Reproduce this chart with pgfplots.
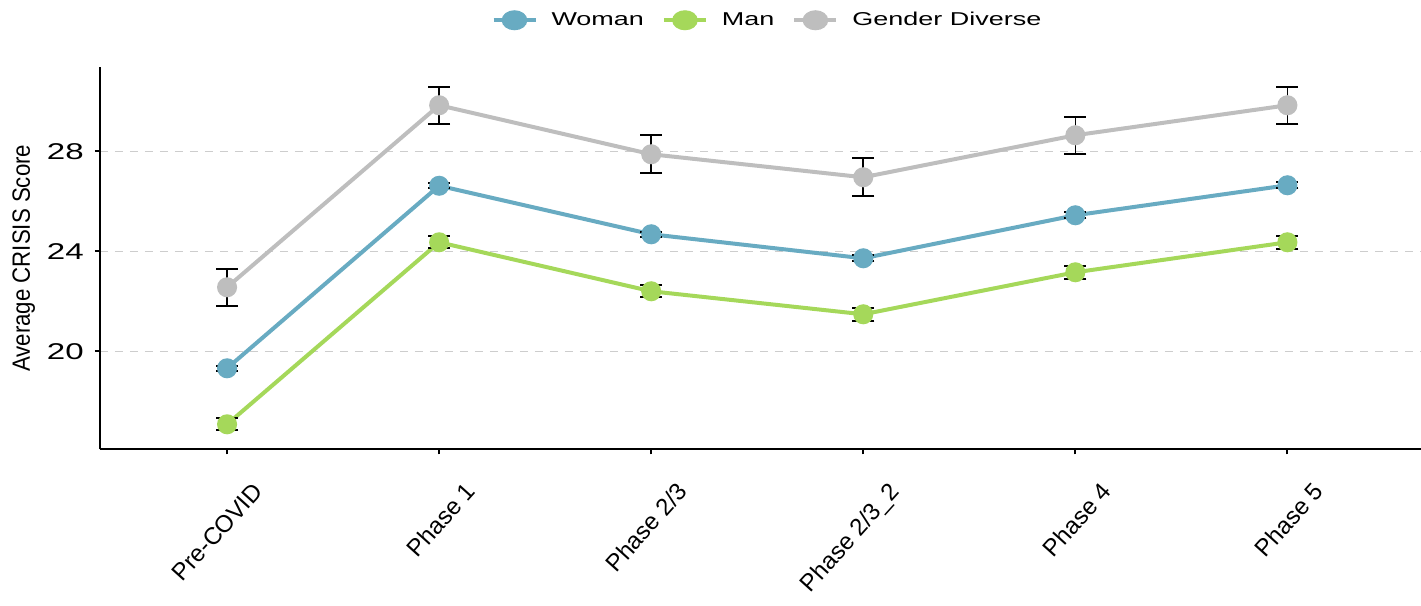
\documentclass[border=0pt]{standalone}
\usepackage{pgfplots}
\pgfplotsset{compat=1.18}
\usepackage{fontspec}
\setmainfont{Liberation Sans}
\newfontfamily\wfont[FakeStretch=1.45]{Liberation Sans}
\newfontfamily\nfont[FakeStretch=0.89]{Liberation Sans}
\definecolor{cwoman}{RGB}{104,171,194}
\definecolor{cman}{RGB}{165,216,90}
\definecolor{cgd}{RGB}{190,190,190}
\definecolor{cgrid}{RGB}{205,205,205}
\begin{document}
\begin{tikzpicture}[trim axis right]
\begin{axis}[
  scale only axis,
  width=660.5pt, height=191pt,
  xmin=-0.6, xmax=5.63,
  ymin=16.08, ymax=31.36,
  axis x line*=bottom, axis y line*=left,
  axis line style={line width=1pt, black},
  xtick={0,1,2,3,4,5},
  xticklabels={Pre-COVID,Phase 1,Phase 2/3,Phase 2/3\_2,Phase 4,Phase 5},
  xticklabel style={xshift=12pt, yshift=-8.5pt, rotate=48, anchor=north east, font=\fontsize{12}{14}\selectfont},
  ytick={20,24,28},
  yticklabel style={font=\wfont\fontsize{11.4}{13}\selectfont, xshift=-2pt},
  /pgf/number format/assume math mode=true,
  tick align=outside,
  major tick length=2.5pt,
  tick style={line width=1pt, black},
  ymajorgrids,
  grid style={line width=0.75pt, cgrid, dash pattern=on 4pt off 3.5pt},
  ylabel={Average CRISIS Score},
  ylabel style={at={([xshift=-38pt]axis description cs:0,0.5)}, anchor=center, inner xsep=0pt, inner ysep=6.25pt, font=\nfont\fontsize{12.5}{14}\selectfont},
  legend columns=3,
  legend style={draw=none, inner ysep=4pt, at={([xshift=4pt,yshift=23.5pt]axis description cs:0.5,1)}, anchor=center, font=\wfont\fontsize{9.3}{11}\selectfont,
    /tikz/every odd column/.append style={column sep=5pt},
    /tikz/every even column/.append style={column sep=7pt}},
  legend image code/.code={\draw[#1, line width=2pt] (0pt,0pt) -- (21pt,0pt); \draw[#1, mark options={xscale=1.35, draw=none}] plot coordinates {(10.5pt,0pt)};},
  every axis plot/.append style={line width=2pt, mark=*, mark size=4pt, mark options={xscale=1.35, draw=none}},
  error bars/y dir=both, error bars/y explicit,
  error bars/error bar style={black, line width=0.8pt},
  error bars/error mark options={rotate=90, black, mark size=5.5pt, line width=0.8pt},
]
\addplot[cwoman, mark options={fill=cwoman}] coordinates {
  (0,19.32) +- (0,0.1)
  (1,26.62) +- (0,0.1)
  (2,24.68) +- (0,0.1)
  (3,23.72) +- (0,0.12)
  (4,25.44) +- (0,0.12)
  (5,26.64) +- (0,0.12)
};
\addlegendentry{Woman}
\addplot[cman, mark options={fill=cman}] coordinates {
  (0,17.08) +- (0,0.24)
  (1,24.36) +- (0,0.24)
  (2,22.40) +- (0,0.24)
  (3,21.48) +- (0,0.26)
  (4,23.16) +- (0,0.26)
  (5,24.36) +- (0,0.26)
};
\addlegendentry{Man}
\addplot[cgd, mark options={fill=cgd}] coordinates {
  (0,22.56) +- (0,0.74)
  (1,29.84) +- (0,0.74)
  (2,27.88) +- (0,0.76)
  (3,26.96) +- (0,0.76)
  (4,28.64) +- (0,0.74)
  (5,29.84) +- (0,0.74)
};
\addlegendentry{Gender Diverse}
\end{axis}
\end{tikzpicture}
\end{document}
